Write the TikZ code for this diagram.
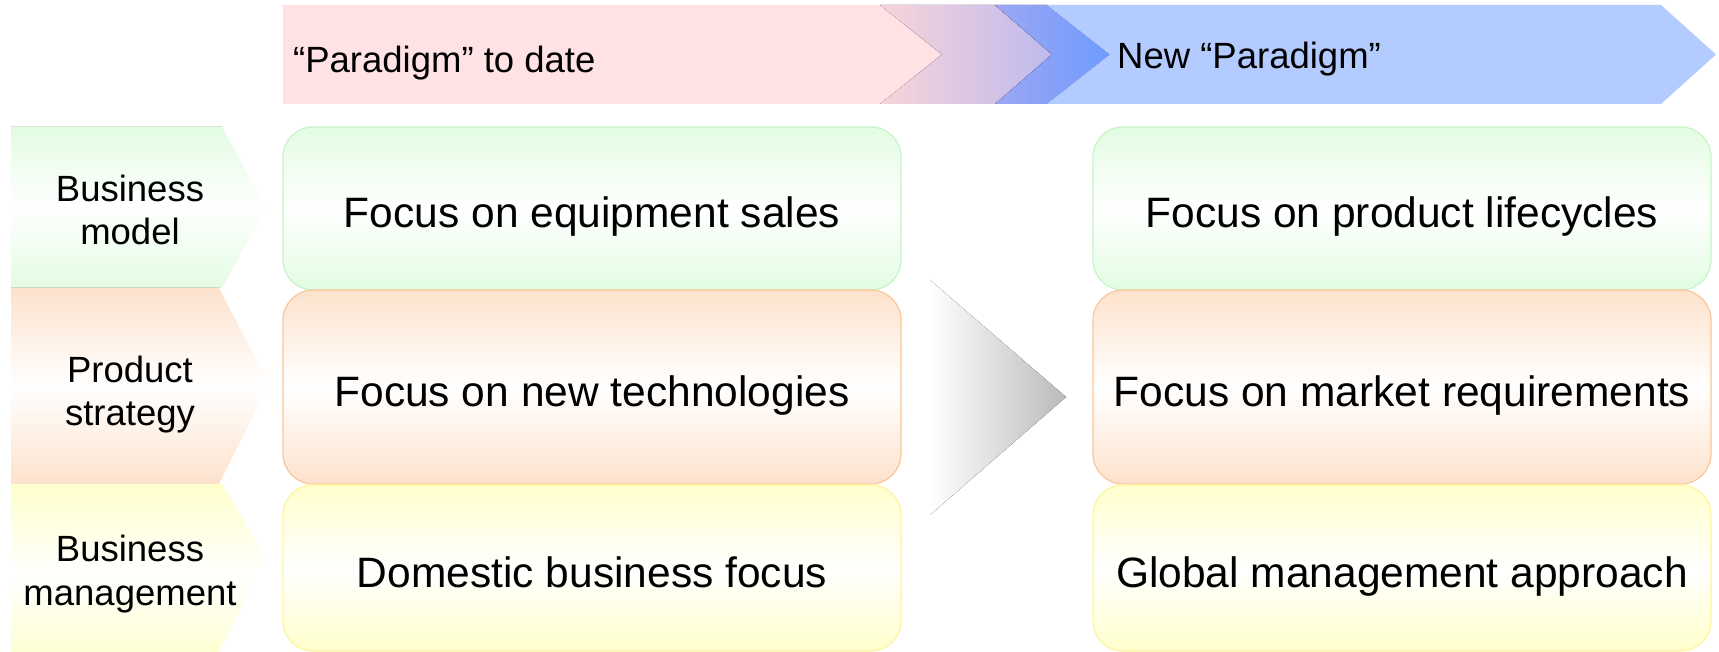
\documentclass[tikz,border=0pt]{standalone}
\usepackage{fontspec}
\setmainfont{Liberation Sans}
\usepackage{tikz}
\usetikzlibrary{positioning}
\definecolor{mintgreen}{HTML}{E2FCE2}
\definecolor{mintedge}{HTML}{C6F4C6}
\definecolor{peach}{HTML}{FDE2CC}
\definecolor{peachedge}{HTML}{F9C699}
\definecolor{lemon}{HTML}{FFFFCC}
\definecolor{lemonedge}{HTML}{FFF49C}
\definecolor{rosepink}{HTML}{FFE2E4}
\definecolor{rosedeep}{HTML}{F8D4D9}
\definecolor{lavender}{HTML}{BEBAEE}
\definecolor{lilacblue}{HTML}{9DA7F2}
\definecolor{skyblue}{HTML}{B3CBFF}
\definecolor{deepblue}{HTML}{6E9BFF}
\tikzset{box/.style={rounded corners=30pt,minimum width=618pt,line width=1.2pt,inner sep=0pt,text height=39pt,text depth=0pt,font=\fontsize{42.5}{50}\selectfont},
greenbox/.style={box,draw=mintedge,top color=mintgreen,bottom color=mintgreen,middle color=white},
peachbox/.style={box,draw=peachedge,top color=peach,bottom color=peach,middle color=white},
lemonbox/.style={box,draw=lemonedge,top color=lemon,bottom color=lemon,middle color=white},
rowlabel/.style={align=center,inner sep=0pt,font=\fontsize{36.5}{43.5}\selectfont},
header/.style={anchor=west,inner sep=0pt,text depth=0pt,font=\fontsize{36.5}{43}\selectfont}}

\begin{document}
\begin{tikzpicture}[x=1pt,y=-1pt]
\useasboundingbox (0,0) rectangle (1719,652);

% header arrows
\fill[rosepink] (283,5) -- (880,5) -- (942,54.5) -- (880,104) -- (283,104) -- cycle;
\fill[left color=rosedeep,right color=lavender] (880,5) -- (995,5) -- (1052,54.5) -- (995,104) -- (880,104) -- (942,54.5) -- cycle;
\fill[left color=lilacblue,right color=deepblue] (995,5) -- (1047,5) -- (1110,54.5) -- (1047,104) -- (995,104) -- (1052,54.5) -- cycle;
\fill[skyblue] (1047,5) -- (1661,5) -- (1716,54.5) -- (1661,104) -- (1047,104) -- (1110,54.5) -- cycle;
\node[header] (old) at (293,59) {“Paradigm” to date};
\node[header] (new) at (1117,55.5) {New “Paradigm”};

% row chevrons
\fill[top color=mintgreen,bottom color=mintgreen,middle color=white] (11,127) -- (223,127) -- (267,207.5) -- (223,288) -- (11,288) -- cycle;
\fill[top color=peach,bottom color=peach,middle color=white] (11,288) -- (220,288) -- (270,384) -- (220,484) -- (11,484) -- cycle;
\fill[top color=lemon,bottom color=lemon,middle color=white] (11,484) -- (223,484) -- (267,558) -- (213,665) -- (11,665) -- cycle;
\draw[white,line width=1.5pt] (223,127) -- (267,207.5) -- (223,288) (220,288) -- (270,384) -- (220,484) (223,484) -- (267,558) -- (213,665);
\node[rowlabel] (bm) at (130,210) {Business\\model};
\node[rowlabel] (ps) at (130,394.5) {Product\\strategy};
\node[rowlabel] (bg) at (130,574) {Business\\management};

% old paradigm
\node[greenbox,minimum height=163pt] (sales) at (592,208.5) {Focus on equipment sales};
\node[peachbox,minimum height=194pt] (tech) at (592,387) {Focus on new technologies};
\node[lemonbox,minimum height=166pt] (home) at (592,568) {Domestic business focus};

% shift
\fill[left color=white,right color=black!27] (930,280) -- (1066,397) -- (930,515) -- cycle;

% new paradigm
\node[greenbox,minimum height=163pt] (life) at (1402,208.5) {Focus on product lifecycles};
\node[peachbox,minimum height=194pt] (market) at (1402,387) {Focus on market requirements};
\node[lemonbox,minimum height=166pt] (global) at (1402,568) {Global management approach};
\end{tikzpicture}
\end{document}
